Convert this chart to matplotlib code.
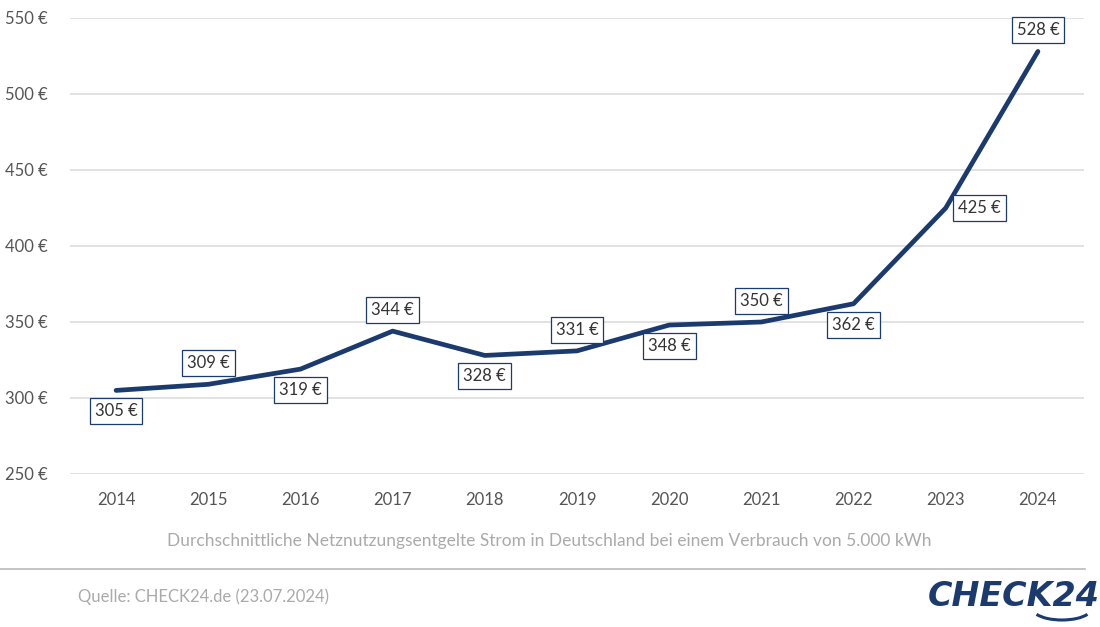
import matplotlib
matplotlib.use("Agg")
import matplotlib.pyplot as plt
from matplotlib.patches import Arc

years = [2014, 2015, 2016, 2017, 2018, 2019, 2020, 2021, 2022, 2023, 2024]
values = [305, 309, 319, 344, 328, 331, 348, 350, 362, 425, 528]
label_pos = ["below", "above", "below", "above", "below", "above", "below", "above", "below", "right", "above"]
y_ticks = [250, 300, 350, 400, 450, 500, 550]
caption = "Durchschnittliche Netznutzungsentgelte Strom in Deutschland bei einem Verbrauch von 5.000 kWh"
source = "Quelle: CHECK24.de (23.07.2024)"

plt.rcParams['font.family'] = ['Lato', 'DejaVu Sans']

navy = "#1b3a6d"
fig = plt.figure(figsize=(11, 6.27), dpi=100)
ax = fig.add_axes([70/1100, 1-474/627, (1084-70)/1100, (474-18)/627])

ax.plot(years, values, color=navy, lw=3.4, solid_capstyle='round', solid_joinstyle='round', zorder=3)
ax.set_xlim(2013.5, 2024.5)
ax.set_ylim(250, 550)
ax.set_yticks(y_ticks)
ax.set_yticklabels([f"{v} €" for v in y_ticks])
ax.set_xticks(years)
ax.set_xticklabels([str(y) for y in years])
ax.grid(axis='y', color='#dddddd', lw=1.2)
ax.set_axisbelow(True)
for s in ax.spines.values():
    s.set_visible(False)
ax.tick_params(axis='both', length=0, labelsize=12, labelcolor='#555555')
ax.tick_params(axis='y', pad=16)
ax.tick_params(axis='x', pad=13)

offsets = {"below": (0, -21), "above": (0, 21), "right": (34, 0)}
for x, v, p in zip(years, values, label_pos):
    dx, dy = offsets[p]
    ax.annotate(f"{v} €", (x, v), xytext=(dx, dy), textcoords='offset pixels',
                ha='center', va='center', fontsize=12, color='#333333', zorder=5,
                bbox=dict(boxstyle='square,pad=0.3', fc='white', ec=navy, lw=0.9))

fig.text(549/1100, 1-541/627, caption, ha='center', va='center', fontsize=12.5, color='#aaaaaa')
fig.add_artist(plt.Line2D([0, 1085/1100], [1-569/627, 1-569/627], color='#bbbbbb', lw=1.2))
fig.text(78/1100, 1-597/627, source, ha='left', va='center', fontsize=12, color='#aaaaaa')

# logo
fig.text(1100/1100, 1-597/627, "CHECK24", ha='right', va='center', fontsize=24,
         fontweight='heavy', style='italic', color=navy, family=['DejaVu Sans'])
arc = Arc((1062/1100, 1-609/627), 58/1100, 22/627, theta1=200, theta2=340,
          transform=fig.transFigure, color=navy, lw=2.2)
fig.add_artist(arc)

fig.savefig("out.png", dpi=100)
